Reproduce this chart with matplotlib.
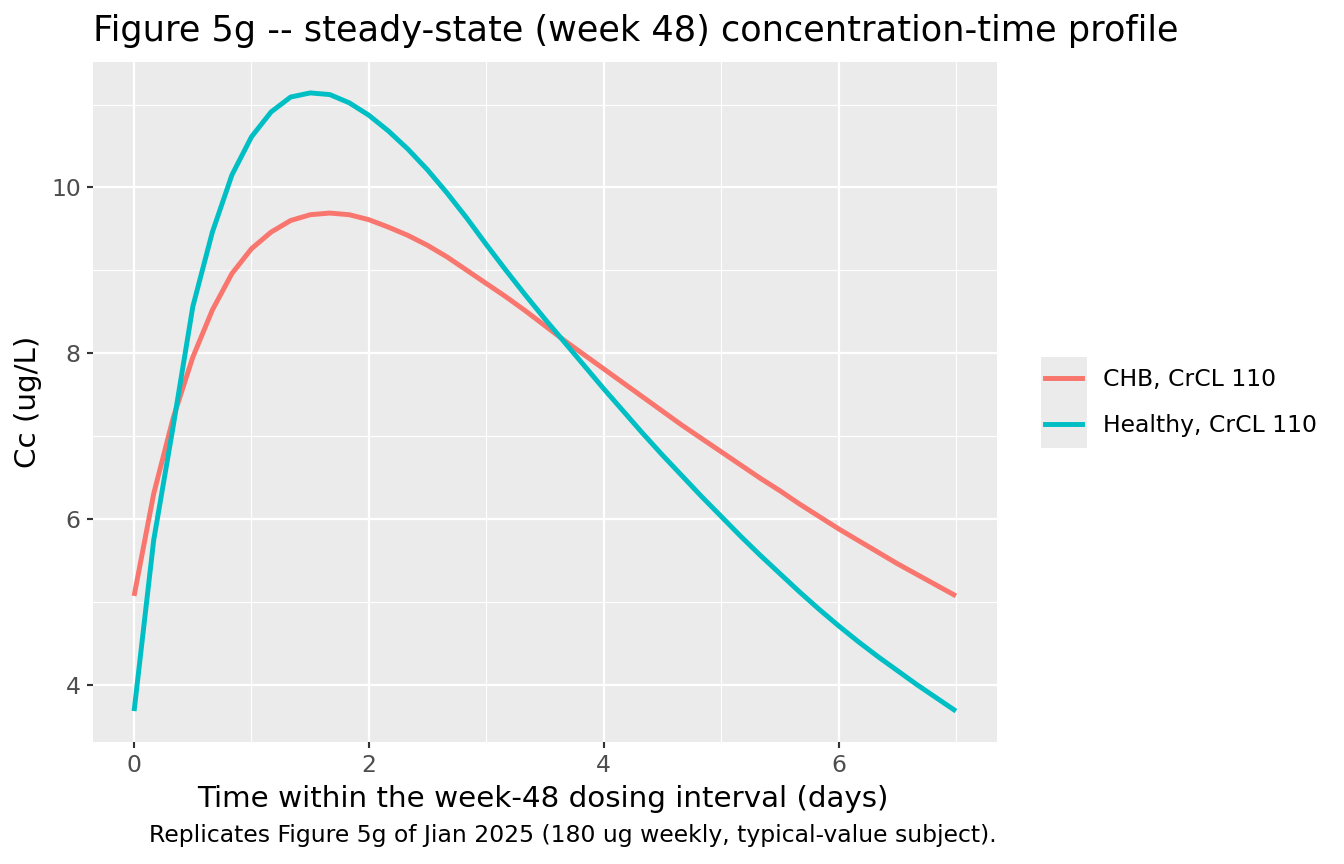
import matplotlib
matplotlib.use("Agg")
import matplotlib.pyplot as plt
from matplotlib.patches import Rectangle
from matplotlib.lines import Line2D
from matplotlib.ticker import MultipleLocator, FixedLocator

# ---------------- data ----------------
time_hours = [0, 4, 8, 12, 16, 20, 24, 28, 32, 36, 40, 44, 48, 52, 56, 60,
              64, 68, 72, 76, 80, 84, 88, 92, 96, 100, 104, 108, 112, 116,
              120, 124, 128, 132, 136, 140, 144, 148, 152, 156, 160, 164, 168]

chb_conc = [5.07, 6.30, 7.22, 7.95, 8.52, 8.96, 9.26, 9.46, 9.60, 9.67,
            9.69, 9.67, 9.61, 9.52, 9.42, 9.30, 9.16, 9.00, 8.84, 8.68,
            8.51, 8.33, 8.15, 7.98, 7.81, 7.64, 7.47, 7.30, 7.13, 6.97,
            6.81, 6.65, 6.49, 6.34, 6.18, 6.03, 5.88, 5.74, 5.60, 5.46,
            5.33, 5.20, 5.07]

healthy_conc = [3.68, 5.74, 7.12, 8.56, 9.46, 10.15, 10.61, 10.91, 11.09, 11.14,
                11.12, 11.02, 10.87, 10.68, 10.46, 10.21, 9.93, 9.63, 9.31, 9.00,
                8.70, 8.41, 8.13, 7.85, 7.57, 7.30, 7.03, 6.77, 6.52, 6.27,
                6.03, 5.79, 5.56, 5.34, 5.12, 4.91, 4.71, 4.52, 4.34, 4.17,
                4.00, 3.84, 3.68]

series_labels = ["CHB, CrCL 110", "Healthy, CrCL 110"]
series_colors = ["#F8766D", "#00BFC4"]
x_ticks = [0, 2, 4, 6]
y_ticks = [4, 6, 8, 10]

title = "Figure 5g -- steady-state (week 48) concentration-time profile"
x_title = "Time within the week-48 dosing interval (days)"
y_title = "Cc (ug/L)"
caption = "Replicates Figure 5g of Jian 2025 (180 ug weekly, typical-value subject)."

# ---------------- figure ----------------
W, H = 1344, 864
fig = plt.figure(figsize=(7, 4.5), dpi=192)
px = lambda x: x / W
py = lambda y: 1 - y / H

ax = fig.add_axes([px(93), py(742), px(997) - px(93), py(62) - py(742)])
ax.set_facecolor("#EBEBEB")
for s in ax.spines.values():
    s.set_visible(False)

time_days = [h / 24 for h in time_hours]
all_y = chb_conc + healthy_conc
for vals, lab, col in zip([chb_conc, healthy_conc], series_labels, series_colors):
    ax.plot(time_days, vals, color=col, linewidth=1.85, label=lab,
            solid_joinstyle="round", solid_capstyle="butt", zorder=3)

# ggplot-style 5% expansion
xr = max(time_days) - min(time_days)
ax.set_xlim(min(time_days) - 0.05 * xr, max(time_days) + 0.05 * xr)
yr = max(all_y) - min(all_y)
ax.set_ylim(min(all_y) - 0.05 * yr, max(all_y) + 0.05 * yr)

ax.xaxis.set_major_locator(FixedLocator(x_ticks))
ax.yaxis.set_major_locator(FixedLocator(y_ticks))
ax.xaxis.set_minor_locator(MultipleLocator(1))
ax.yaxis.set_minor_locator(MultipleLocator(1))
ax.grid(which="major", color="white", linewidth=0.85)
ax.grid(which="minor", color="white", linewidth=0.42)
ax.set_axisbelow(True)
ax.tick_params(which="minor", length=0)
ax.tick_params(which="major", length=2.4, width=0.8, color="#333333",
               labelcolor="#4D4D4D", labelsize=8.8, pad=2.2)

# titles
fig.text(px(93), py(41), title, fontsize=13.2, ha="left", va="baseline", color="black")
fig.text(px(543), py(807), x_title, fontsize=11, ha="center", va="baseline", color="black")
fig.text(px(28), py(402), y_title, fontsize=11, ha="center", va="center",
         rotation=90, color="black")
fig.text(px(997), py(842), caption, fontsize=8.8, ha="right", va="baseline", color="black")

# legend with grey key background
fig.patches.append(Rectangle((px(1040.7), py(448.3)), px(1087.3) - px(1040.7),
                             py(356.7) - py(448.3), transform=fig.transFigure,
                             facecolor="#EBEBEB", edgecolor="none", zorder=0))
handles = [Line2D([], [], color=c, linewidth=1.85) for c in series_colors]
fig.legend(handles, series_labels, loc="center left",
           bbox_to_anchor=(px(1045), py(402.5)), frameon=False, fontsize=8.8,
           handlelength=1.57, handletextpad=0.9, labelspacing=0.98,
           borderpad=0, borderaxespad=0)

fig.savefig("out.png", dpi=192)
